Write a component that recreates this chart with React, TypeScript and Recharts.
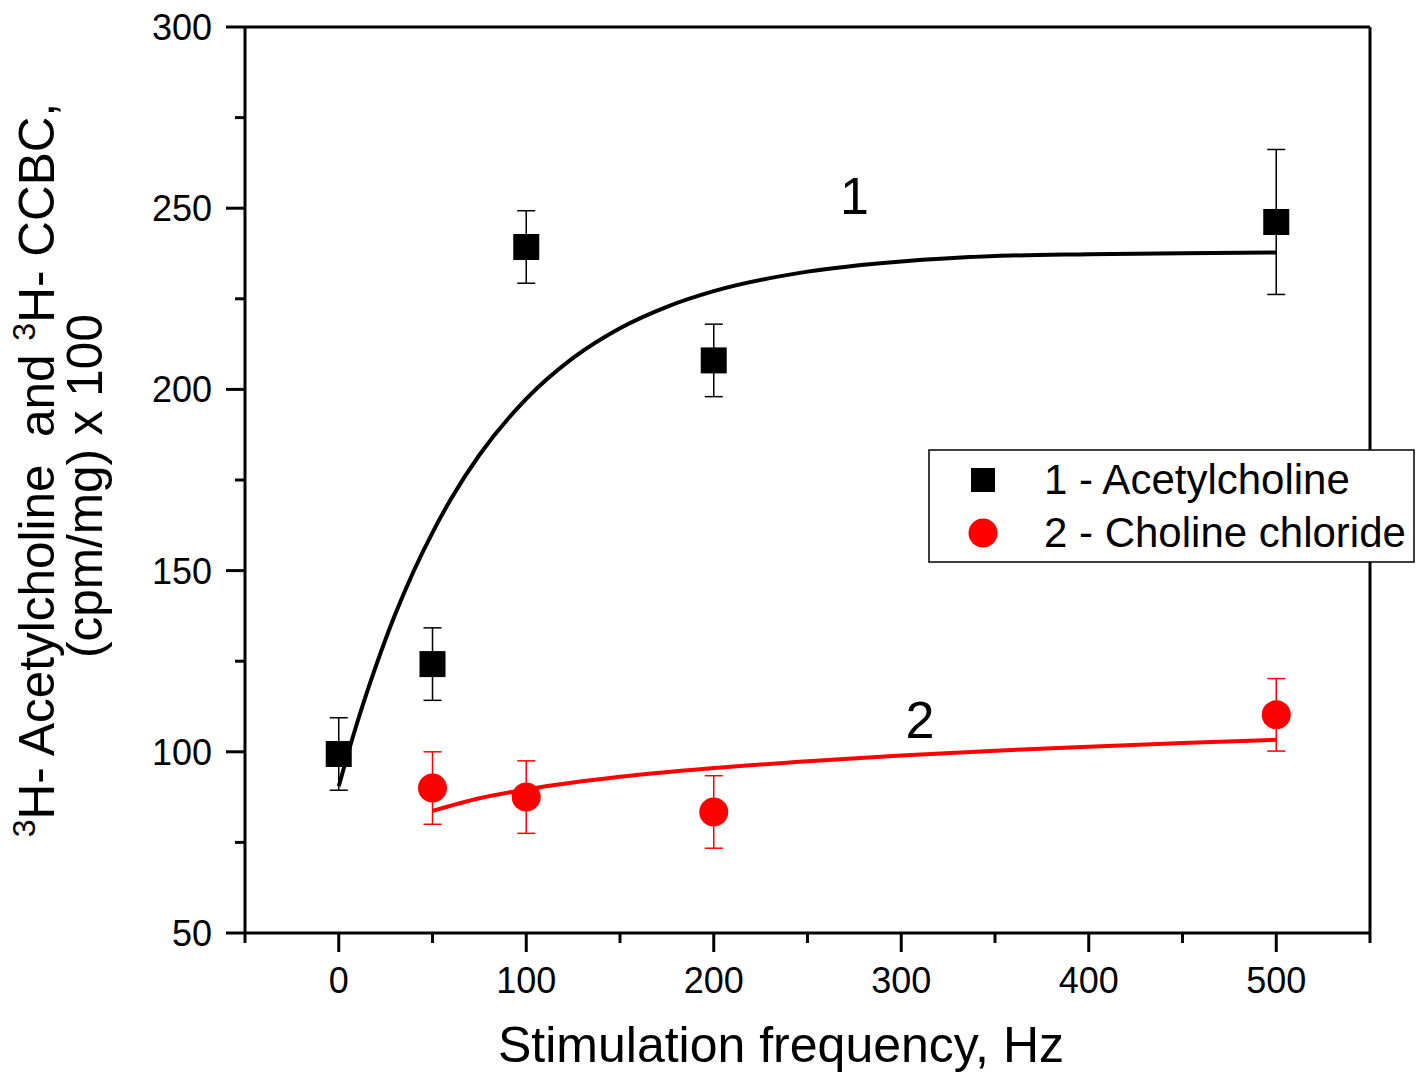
import React from 'react';
import { ComposedChart, Line, Scatter, ErrorBar, XAxis, YAxis, Legend, ReferenceDot, ReferenceLine } from 'recharts';

const FONT = '"Liberation Sans", Arial, sans-serif';

// 1 - acetylcholine, measured points
const achFreq = [0, 50, 100, 200, 500];
const achValue = [99.4, 124.2, 239.3, 208, 246.2];
const achError = [10, 10, 10, 10, 20];

// 2 - choline chloride, measured points
const cholFreq = [50, 100, 200, 500];
const cholValue = [90, 87.5, 83.4, 110.2];
const cholError = [10, 10, 10, 10];

// fitted curves
const fit1Freq = [0, 5, 10, 20, 30, 40, 50, 60, 75, 100, 125, 150, 175, 200, 250, 300, 350, 400, 450, 500];
const fit1Value = [90.5, 99.7, 108.3, 123.9, 137.8, 149.9, 160.5, 169.9, 181.9, 197.4, 208.7, 216.9, 222.8, 227.1, 232.5, 235.3, 236.8, 237.3, 237.6, 237.8];

const fit2Freq = [50, 75, 100, 150, 200, 250, 300, 350, 400, 450, 500];
const fit2Value = [83.7, 87.2, 89.6, 93.1, 95.5, 97.4, 99.0, 100.3, 101.4, 102.4, 103.3];

const xTicks = [-50, 0, 50, 100, 150, 200, 250, 300, 350, 400, 450, 500, 550];
const xMajor = [0, 100, 200, 300, 400, 500];
const yTicks = [50, 75, 100, 125, 150, 175, 200, 225, 250, 275, 300];
const yMajor = [50, 100, 150, 200, 250, 300];

const ach = achFreq.map((x, i) => ({ x, y: achValue[i], err: achError[i] }));
const chol = cholFreq.map((x, i) => ({ x, y: cholValue[i], err: cholError[i] }));
const fit1 = fit1Freq.map((x, i) => ({ x, y: fit1Value[i] }));
const fit2 = fit2Freq.map((x, i) => ({ x, y: fit2Value[i] }));

const XTick = (props: any) => {
  const { x, y, payload } = props;
  const major = xMajor.includes(payload.value);
  return (
    <g>
      <line x1={x} y1={y} x2={x} y2={y + (major ? 19 : 10)} stroke="#000" strokeWidth={3} />
      {major && (
        <text x={x} y={y + 60} textAnchor="middle" fontSize={36} fontFamily={FONT} fill="#000">
          {payload.value}
        </text>
      )}
    </g>
  );
};

const YTick = (props: any) => {
  const { x, y, payload } = props;
  const major = yMajor.includes(payload.value);
  return (
    <g>
      <line x1={x} y1={y} x2={x - (major ? 19 : 10)} y2={y} stroke="#000" strokeWidth={3} />
      {major && (
        <text x={x - 33} y={y + 13} textAnchor="end" fontSize={36} fontFamily={FONT} fill="#000">
          {payload.value}
        </text>
      )}
    </g>
  );
};

const Square = (props: any) => {
  const { cx, cy, fill } = props;
  return <rect x={cx - 13} y={cy - 13} width={26} height={26} fill={fill} />;
};

const Circle = (props: any) => {
  const { cx, cy, fill } = props;
  return <circle cx={cx} cy={cy} r={14.5} fill={fill} />;
};

const XTitle = () => (
  <text x={781} y={1062} textAnchor="middle" fontSize={50} fontFamily={FONT} fill="#000">
    Stimulation frequency, Hz
  </text>
);

const YTitle = () => (
  <g fontFamily={FONT} fill="#000" fontSize={49.5}>
    <text x={54} y={470} textAnchor="middle" transform="rotate(-90 54 470)" style={{ whiteSpace: 'pre' }}>
      <tspan fontSize={32} dy={-19}>3</tspan>
      <tspan dy={19}>{'H- Acetylcholine  and '}</tspan>
      <tspan fontSize={32} dy={-19}>3</tspan>
      <tspan dy={19}>{'H- CCBC,'}</tspan>
    </text>
    <text x={102} y={486} textAnchor="middle" transform="rotate(-90 102 486)">
      (cpm/mg) x 100
    </text>
  </g>
);

const LegendBox = (props: any) => {
  const items = (props.payload || []).filter((p: any) => p.type !== 'none');
  return (
    <svg width={487} height={114} style={{ display: 'block' }}>
      <rect x={1} y={1} width={485} height={112} fill="#fff" stroke="#000" strokeWidth={1.5} />
      {items.map((p: any, i: number) => {
        const cy = 31 + i * 53;
        return (
          <g key={p.value}>
            {p.type === 'square' ? (
              <rect x={55 - 12} y={cy - 12} width={24} height={24} fill={p.color} />
            ) : (
              <circle cx={55} cy={cy} r={14.5} fill={p.color} />
            )}
            <text x={116} y={cy + 14} fontSize={42} fontFamily={FONT} fill="#000">
              {p.value}
            </text>
          </g>
        );
      })}
    </svg>
  );
};

export default function App() {
  return (
    <div style={{ position: 'absolute', left: 0, top: 0, width: 1421, height: 1072, background: '#fff' }}>
      <ComposedChart width={1421} height={1072} margin={{ top: 27, right: 51, bottom: 0, left: 0 }}>
        <XAxis
          dataKey="x"
          type="number"
          domain={[-50, 550]}
          ticks={xTicks}
          interval={0}
          allowDataOverflow
          height={139}
          tickSize={0}
          tickMargin={0}
          tickLine={false}
          tick={<XTick />}
          axisLine={{ stroke: '#000', strokeWidth: 3 }}
          label={{ content: () => <XTitle /> }}
        />
        <YAxis
          dataKey="y"
          type="number"
          domain={[50, 300]}
          ticks={yTicks}
          interval={0}
          allowDataOverflow
          width={245}
          tickSize={0}
          tickMargin={0}
          tickLine={false}
          tick={<YTick />}
          axisLine={{ stroke: '#000', strokeWidth: 3 }}
          label={{ content: () => <YTitle /> }}
        />
        <ReferenceLine y={300} stroke="#000" strokeWidth={3} ifOverflow="visible" />
        <ReferenceLine x={550} stroke="#000" strokeWidth={3} ifOverflow="visible" />
        <Legend
          layout="vertical"
          align="center"
          verticalAlign="middle"
          content={<LegendBox />}
          wrapperStyle={{ left: 928, top: 449, width: 487, height: 114 }}
        />
        <Scatter
          name="1 - Acetylcholine"
          data={ach}
          fill="#000"
          legendType="square"
          shape={<Square />}
          isAnimationActive={false}
        >
          <ErrorBar dataKey="err" direction="y" width={9} stroke="#000" strokeWidth={1.5} />
        </Scatter>
        <Scatter
          name="2 - Choline chloride"
          data={chol}
          fill="#ff0000"
          legendType="circle"
          shape={<Circle />}
          isAnimationActive={false}
        >
          <ErrorBar dataKey="err" direction="y" width={9} stroke="#ff0000" strokeWidth={1.5} />
        </Scatter>
        <Line
          data={fit1}
          dataKey="y"
          type="monotone"
          stroke="#000"
          strokeWidth={4}
          dot={false}
          activeDot={false}
          legendType="none"
          isAnimationActive={false}
        />
        <Line
          data={fit2}
          dataKey="y"
          type="monotone"
          stroke="#ff0000"
          strokeWidth={4}
          dot={false}
          activeDot={false}
          legendType="none"
          isAnimationActive={false}
        />
        <ReferenceDot x={275} y={253.5} r={0} fill="none" stroke="none" label={{ value: '1', position: 'center', fontSize: 52, fill: '#000', fontFamily: FONT }} />
        <ReferenceDot x={310} y={108.8} r={0} fill="none" stroke="none" label={{ value: '2', position: 'center', fontSize: 52, fill: '#000', fontFamily: FONT }} />
      </ComposedChart>
    </div>
  );
}
